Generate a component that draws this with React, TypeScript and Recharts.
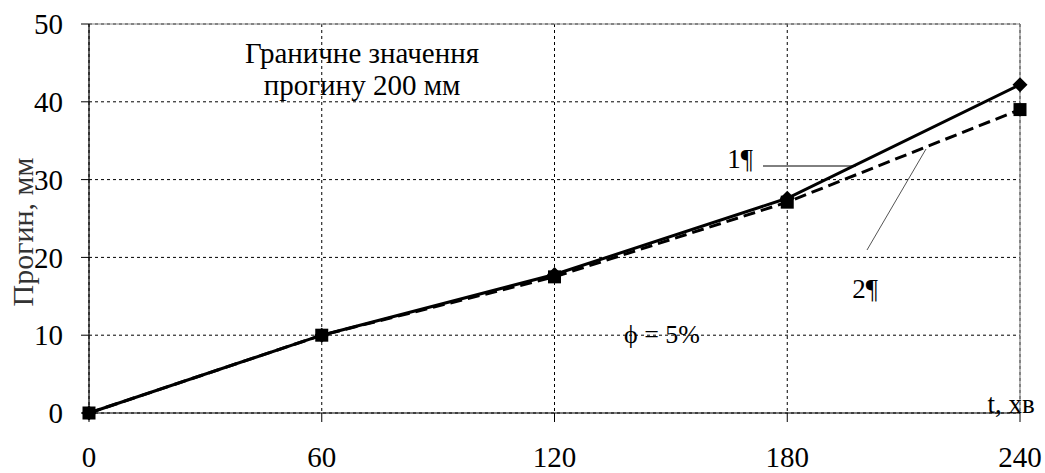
import React from 'react';
import { LineChart, Line, XAxis, YAxis, CartesianGrid, ReferenceLine } from 'recharts';

const times = [0, 60, 120, 180, 240];
const series1 = [0, 10, 17.8, 27.6, 42.2];
const series2 = [0, 10, 17.5, 27.1, 39.0];
const xTicks = [0, 60, 120, 180, 240];
const yTicks = [0, 10, 20, 30, 40, 50];

const data = times.map((t, i) => ({ t, s1: series1[i], s2: series2[i] }));

const FONT = "Liberation Serif, DejaVu Serif, serif";

const Diamond = (props: any) => {
  const { cx, cy } = props;
  if (cx == null || cy == null) return null;
  const r = 7.5;
  return (
    <polygon
      points={`${cx},${cy - r} ${cx + r},${cy} ${cx},${cy + r} ${cx - r},${cy}`}
      fill="#000"
    />
  );
};

const Square = (props: any) => {
  const { cx, cy } = props;
  if (cx == null || cy == null) return null;
  const h = 6.5;
  return <rect x={cx - h} y={cy - h} width={h * 2} height={h * 2} fill="#000" />;
};

const tickStyle = { fill: '#000', fontSize: 29, fontFamily: FONT, style: { fontFamily: FONT } };
const txt = { fontFamily: FONT, fill: '#000' } as React.CSSProperties;

export default function App() {
  return (
    <div style={{ position: 'absolute', left: 0, top: 0, width: 1045, height: 473, background: '#fff', fontFamily: FONT }}>
      <LineChart
        width={1045}
        height={473}
        data={data}
        margin={{ top: 24, right: 25, left: 0, bottom: 0 }}
        style={{ fontFamily: FONT }}
      >
        <CartesianGrid stroke="#000" strokeDasharray="3 3" strokeWidth={1} />
        <XAxis
          dataKey="t"
          type="number"
          domain={[0, 240]}
          ticks={xTicks}
          height={60}
          tickSize={9}
          tickMargin={24}
          axisLine={{ stroke: '#000', strokeWidth: 1.2 }}
          tickLine={{ stroke: '#000' }}
          tick={tickStyle}
        />
        <YAxis
          type="number"
          domain={[0, 50]}
          ticks={yTicks}
          width={89}
          tickSize={8}
          tickMargin={18}
          axisLine={{ stroke: '#000', strokeWidth: 1.2 }}
          tickLine={{ stroke: '#000' }}
          tick={tickStyle}
        />
        <ReferenceLine y={50} stroke="#888" strokeWidth={1.2} />
        <ReferenceLine x={240} stroke="#888" strokeWidth={1.2} />
        <Line
          type="linear"
          dataKey="s1"
          stroke="#000"
          strokeWidth={3}
          dot={<Diamond />}
          isAnimationActive={false}
        />
        <Line
          type="linear"
          dataKey="s2"
          stroke="#000"
          strokeWidth={3}
          strokeDasharray="12 6"
          dot={<Square />}
          isAnimationActive={false}
        />
      </LineChart>
      <svg
        width={1045}
        height={473}
        style={{ position: 'absolute', left: 0, top: 0, pointerEvents: 'none' }}
      >
        <text x={362} y={63} fontSize={29} textAnchor="middle" style={txt}>Граничне значення</text>
        <text x={362} y={95} fontSize={29} textAnchor="middle" style={txt}>прогину 200 мм</text>
        <text x={662} y={343} fontSize={26} textAnchor="middle" style={txt}>ϕ = 5%</text>
        <text x={740} y={168} fontSize={27} textAnchor="middle" style={txt}>1¶</text>
        <line x1={763} y1={166} x2={856} y2={166} stroke="#000" strokeWidth={1} />
        <text x={865} y={298} fontSize={27} textAnchor="middle" style={txt}>2¶</text>
        <line x1={867} y1={250} x2={926} y2={149} stroke="#555" strokeWidth={1} />
        <text x={1011} y={413} fontSize={27} textAnchor="middle" style={txt}>t, хв</text>
        <text
          x={33}
          y={232}
          fontSize={30}
          textAnchor="middle"
          style={{ fontFamily: FONT, fill: '#333' }}
          transform="rotate(-90 33 232)"
        >
          Прогин, мм
        </text>
      </svg>
    </div>
  );
}
